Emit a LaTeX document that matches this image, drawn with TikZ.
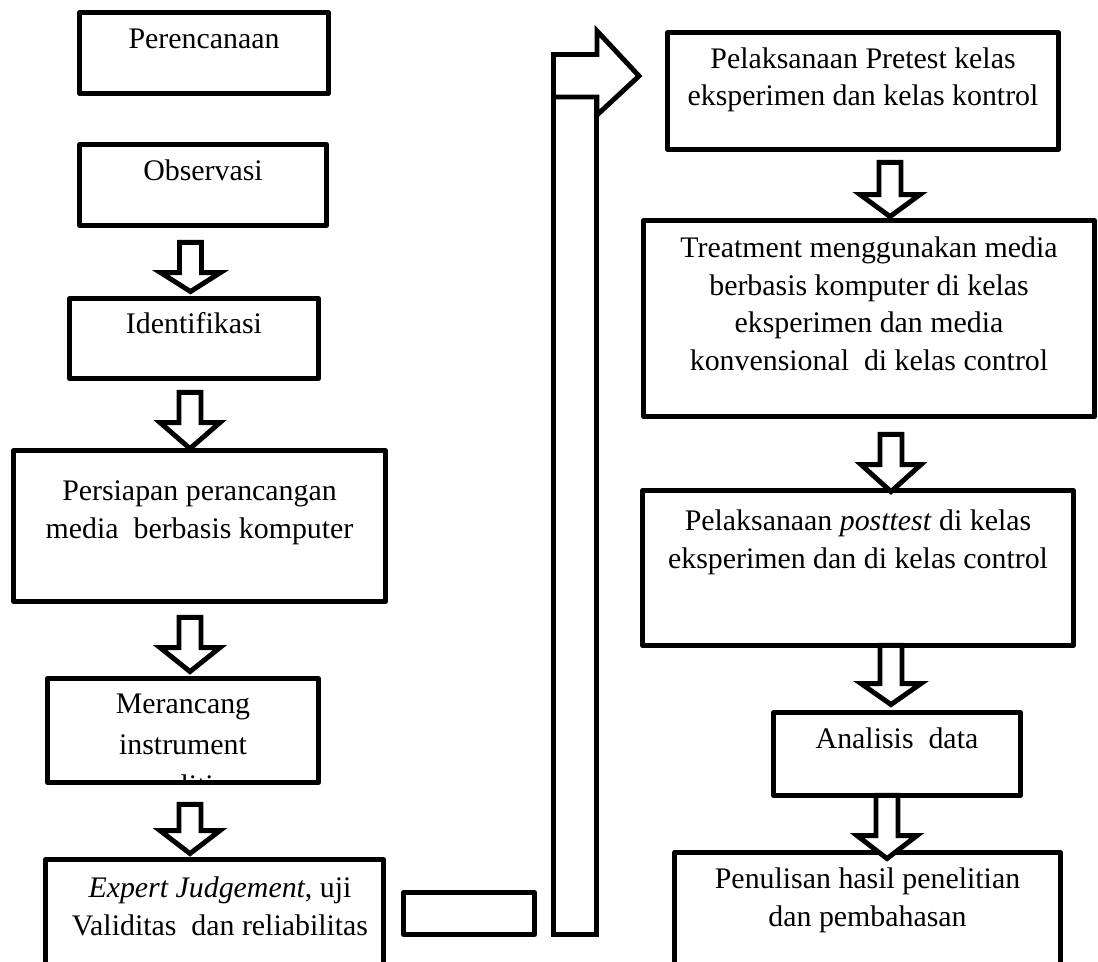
\documentclass[tikz,border=0pt]{standalone}
\usepackage{fontspec}
\setmainfont{Liberation Serif}
\usetikzlibrary{calc}

% baris teks, garis dasar = baris pertama
\newcommand{\baris}[1]{\begin{tabular}[t]{@{}c@{}}#1\end{tabular}}

\tikzset{
  box/.style={draw, line width=2.8pt, line join=round, fill=white, inner sep=0pt},
  txt/.style={anchor=base, inner sep=0pt, font=\fontsize{17}{21.6}\selectfont},
  blk/.style={draw, line width=2.8pt, line join=miter, fill=white},
}

\begin{document}
\begin{tikzpicture}[x=0.02cm, y=-0.02cm]
	\useasboundingbox (0,0) rectangle (1098,962);
	\clip (0,0) rectangle (1098,962);
	% kolom kiri
	\node[box, minimum width=4.98cm, minimum height=1.62cm] (plan) at (204,53) {};
	\node[box, minimum width=4.94cm, minimum height=1.62cm] (obs) at (203,185) {};
	\node[box, minimum width=4.98cm, minimum height=1.60cm] (iden) at (194,338.5) {};
	\node[box, minimum width=7.44cm, minimum height=3.02cm] (prep) at (199.5,526) {};
	\node[box, minimum width=5.42cm, minimum height=2.08cm] (merc) at (183,730.5) {};
	\node[box, minimum width=6.76cm, minimum height=3.61cm] (expt) at (214.5,949.75) {};
	% kolom kanan
	\node[box, minimum width=7.82cm, minimum height=2.34cm] (pre) at (863,91) {};
	\node[box, minimum width=9.02cm, minimum height=3.92cm] (treat) at (869,318.5) {};
	\node[box, minimum width=8.62cm, minimum height=3.10cm] (post) at (858,568) {};
	\node[box, minimum width=4.94cm, minimum height=1.66cm] (anal) at (897,754) {};
	\node[box, minimum width=7.72cm, minimum height=3.75cm] (pen) at (867.5,946.25) {};
	\node[box, minimum width=2.62cm, minimum height=0.84cm] (gap) at (469,913.5) {};

	% teks
	\node[txt] (plant) at ($(plan.north)+(0,38)$) {Perencanaan};
	\node[txt] (obst) at ($(obs.north)+(0,38)$) {Observasi};
	\node[txt] (ident) at ($(iden.north)+(0,37)$) {Identifikasi};
	\node[txt] (prept) at ($(prep.north)+(0,52)$) {\baris{Persiapan perancangan\\media~ berbasis komputer}};
	\begin{scope}
		% baris ketiga terpotong oleh tepi kotak
		\clip ([shift={(2.8pt,2.8pt)}]merc.south west) rectangle ([shift={(-2.8pt,-2.8pt)}]merc.north east);
		\node[txt, font=\fontsize{17}{23.5}\selectfont] (merct) at ($(merc.north)+(0,37)$) {\baris{Merancang\\instrument\\penelitian}};
	\end{scope}
	\node[txt] (exptt) at ($(expt.north)+(5.5,40)$) {\baris{\textit{Expert Judgement}, uji\\Validitas~ dan reliabilitas}};
	\node[txt] (pret) at ($(pre.north)+(0,38)$) {\baris{Pelaksanaan Pretest kelas\\eksperimen dan kelas kontrol}};
	\node[txt] (treatt) at ($(treat.north)+(0,39)$) {\baris{Treatment menggunakan media\\berbasis komputer di kelas\\eksperimen dan media\\konvensional~ di kelas control}};
	\node[txt] (postt) at ($(post.north)+(0,42)$) {\baris{Pelaksanaan \textit{posttest} di kelas\\eksperimen dan di kelas control}};
	\node[txt] (analt) at ($(anal.north)+(0,38)$) {Analisis~ data};
	\node[txt] (pent) at ($(pen.north)+(0,38)$) {\baris{Penulisan hasil penelitian\\dan pembahasan}};

	% panah blok ke bawah
	\foreach \src/\dst/\x/\g/\off/\h in {obs/iden/190.5/14.5/-4.5/19, iden/prep/190/11.5/0.5/26,
		prep/merc/190/13.5/-4.5/24, merc/expt/190/19.5/-3.5/23, pre/treat/890/10.5/-1.5/22,
		treat/post/891/15.5/3.5/27, post/anal/891/-2.5/-5.5/21, anal/pen/887/-2.5/8.5/23}{
		\draw[blk] ($(\x,0 |- \src.south)+(-11,\g)$) -- ++(22,0)
			-- ($(\x,0 |- \dst.north)+(11,\off-\h)$) -- ++(19,0)
			-- ($(\x,0 |- \dst.north)+(0,\off)$)
			-- ($(\x,0 |- \dst.north)+(-30,\off-\h)$) -- ++(19,0) -- cycle;
	}

	% panah belok ke atas lalu ke kanan
	\coordinate (tip) at (639,76);
	\draw[blk] (553.5,97) rectangle (596.5,934.5);
	\draw[blk] (553.5,97) -- (553.5,54.5) -- (597,54.5) -- (597,31) -- (tip)
		-- (597,115) -- (597,97) -- cycle;
\end{tikzpicture}
\end{document}
